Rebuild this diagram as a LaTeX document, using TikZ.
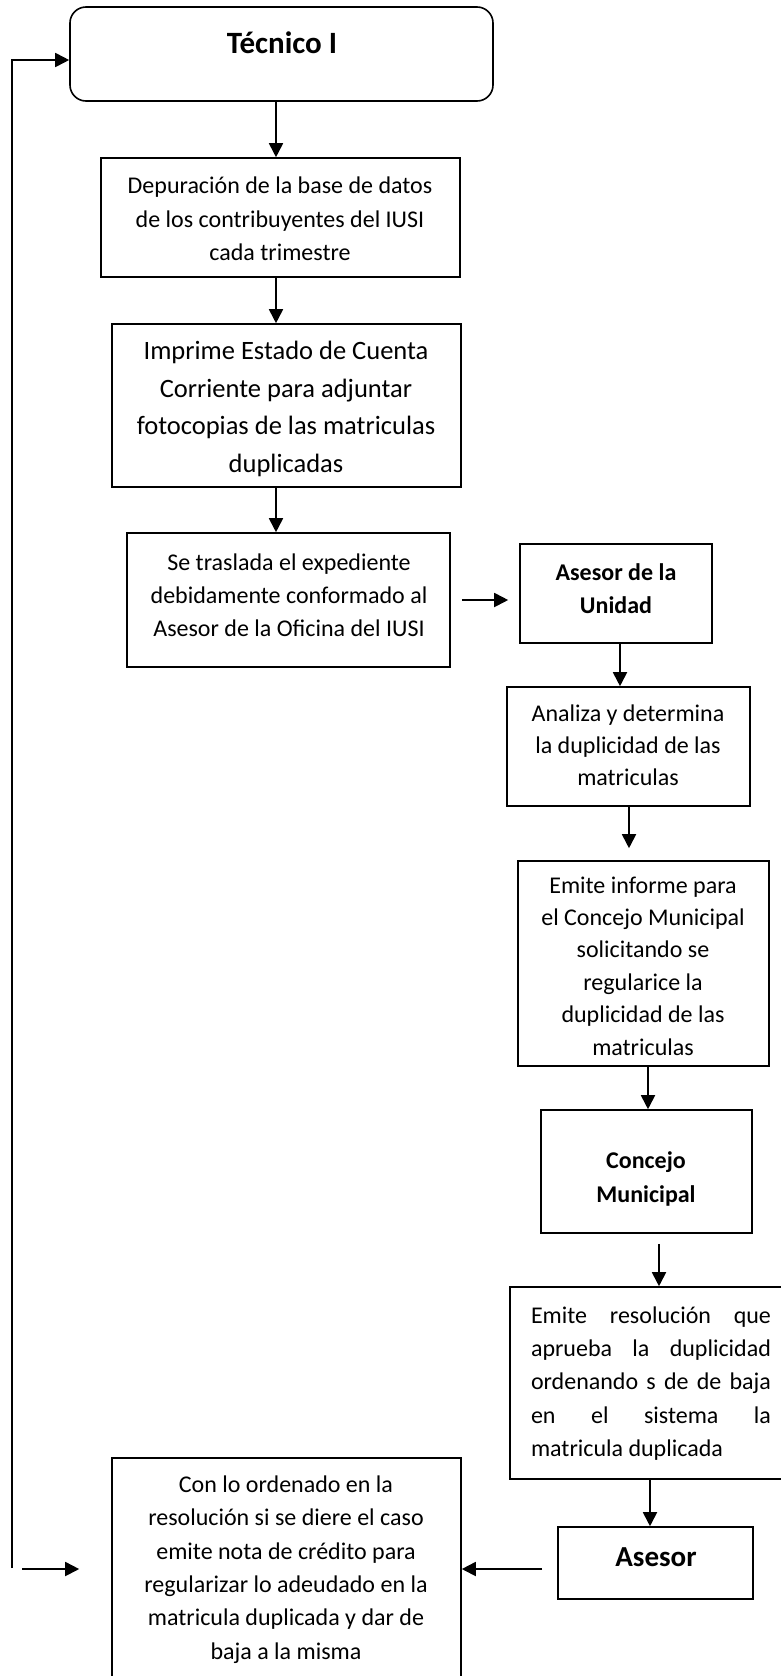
\documentclass[tikz,border=0pt]{standalone}
\usepackage{fontspec}
\setmainfont{Carlito}
\usetikzlibrary{arrows.meta,calc}
\begin{document}
\begin{tikzpicture}[x=1pt,y=-1pt,
  box/.style={draw, line width=1.6pt, inner sep=0pt, anchor=center},
  txt/.style={inner sep=0pt, align=center, font=\fontsize{24}{33.4}\selectfont},
  arr/.style={line width=1.8pt, -{Triangle[width=14pt,length=14pt]}}]
\useasboundingbox (0,0) rectangle (781,1676);
\clip (0,0) rectangle (781,1676);
% boxes
\node[box, minimum width=423pt, minimum height=94pt, rounded corners=16pt] (tec) at (281.5,54) {};
\node[box, minimum width=359pt, minimum height=119pt] (dep) at (280.5,217.5) {};
\node[box, minimum width=349pt, minimum height=163pt] (imp) at (286.5,405.5) {};
\node[box, minimum width=323pt, minimum height=134pt] (tras) at (288.5,600) {};
\node[box, minimum width=192pt, minimum height=99pt] (ase1) at (616,593.5) {};
\node[box, minimum width=243pt, minimum height=119pt] (ana) at (628.5,746.5) {};
\node[box, minimum width=251pt, minimum height=205pt] (emi) at (643.5,963.5) {};
\node[box, minimum width=211pt, minimum height=123pt] (con) at (646.5,1171.5) {};
\node[box, minimum width=284pt, minimum height=192pt] (res) at (652,1383) {};
\node[box, minimum width=195pt, minimum height=72pt] (ases) at (655.5,1563) {};
\node[box, minimum width=349pt, minimum height=250pt] (fin) at (286.5,1583) {};
% texts
\node[txt, anchor=base, font=\fontsize{31}{36}\bfseries] (tecT) at (282,53) {Técnico I};
\node[txt] (depT) at (280,219) {Depuración de la base de datos\\de los contribuyentes del IUSI\\cada trimestre};
\node[txt, font=\fontsize{26.5}{37.5}\selectfont] (impT) at (286,409) {Imprime Estado de Cuenta\\Corriente para adjuntar\\fotocopias de las matriculas\\duplicadas};
\node[txt, font=\fontsize{24}{33}\selectfont] (trasT) at (289,595) {Se traslada el expediente\\debidamente conformado al\\Asesor de la Oficina del IUSI};
\node[txt, font=\fontsize{24}{33}\bfseries] (ase1T) at (616,588.5) {Asesor de la\\Unidad};
\node[txt, font=\fontsize{24}{32}\selectfont] (anaT) at (628,745) {Analiza y determina\\la duplicidad de las\\matriculas};
\node[txt, font=\fontsize{24}{32.4}\selectfont] (emiT) at (643,966) {Emite informe para\\el Concejo Municipal\\solicitando se\\regularice la\\duplicidad de las\\matriculas};
\node[txt, font=\fontsize{24}{34}\bfseries] (conT) at (646,1179) {Concejo\\Municipal};
\node[txt, align=justify, text width=240pt, font=\fontsize{24}{33.3}\selectfont] (resT) at (651,1383.5) {Emite resolución que\linebreak aprueba la duplicidad\linebreak ordenando s de de baja\linebreak en el sistema la\linebreak matricula duplicada};
\node[txt, anchor=base, font=\fontsize{29}{34}\bfseries] (asesT) at (656,1566) {Asesor};
\node[txt, font=\fontsize{24}{33.4}\selectfont] (finT) at (286,1569.5) {Con lo ordenado en la\\resolución si se diere el caso\\emite nota de crédito para\\regularizar lo adeudado en la\\matricula duplicada y dar de\\baja a la misma};
% connector x positions
\coordinate (c1) at (276,0);
\coordinate (c2) at (620,0);
\coordinate (c3) at (629,0);
\coordinate (c4) at (648,0);
\coordinate (c5) at (659,0);
\coordinate (c6) at (650,0);
\coordinate (r1) at (0,600);
\coordinate (r2) at (0,1569);
\coordinate (loopend) at (12,1568);
\coordinate (b0) at (22,1569);
% connectors
\draw[arr] (tec.south -| c1) -- (dep.north -| c1);
\draw[arr] (dep.south -| c1) -- (imp.north -| c1);
\draw[arr] (imp.south -| c1) -- (tras.north -| c1);
\draw[arr, shorten <=11pt, shorten >=11pt] (tras.east |- r1) -- (ase1.west |- r1);
\draw[arr] (ase1.south -| c2) -- (ana.north -| c2);
\draw[arr, shorten >=12pt] (ana.south -| c3) -- (emi.north -| c3);
\draw[arr] (emi.south -| c4) -- (con.north -| c4);
\draw[arr, shorten <=10pt] (con.south -| c5) -- (res.north -| c5);
\draw[arr] (res.south -| c6) -- (ases.north -| c6);
\draw[arr, shorten <=15pt] (ases.west |- r2) -- (fin.east |- r2);
\draw[arr] (loopend) |- ($(tec.west)+(0,6)$);
\draw[arr, shorten >=32pt] (b0) -- (fin.west |- b0);
\end{tikzpicture}
\end{document}
